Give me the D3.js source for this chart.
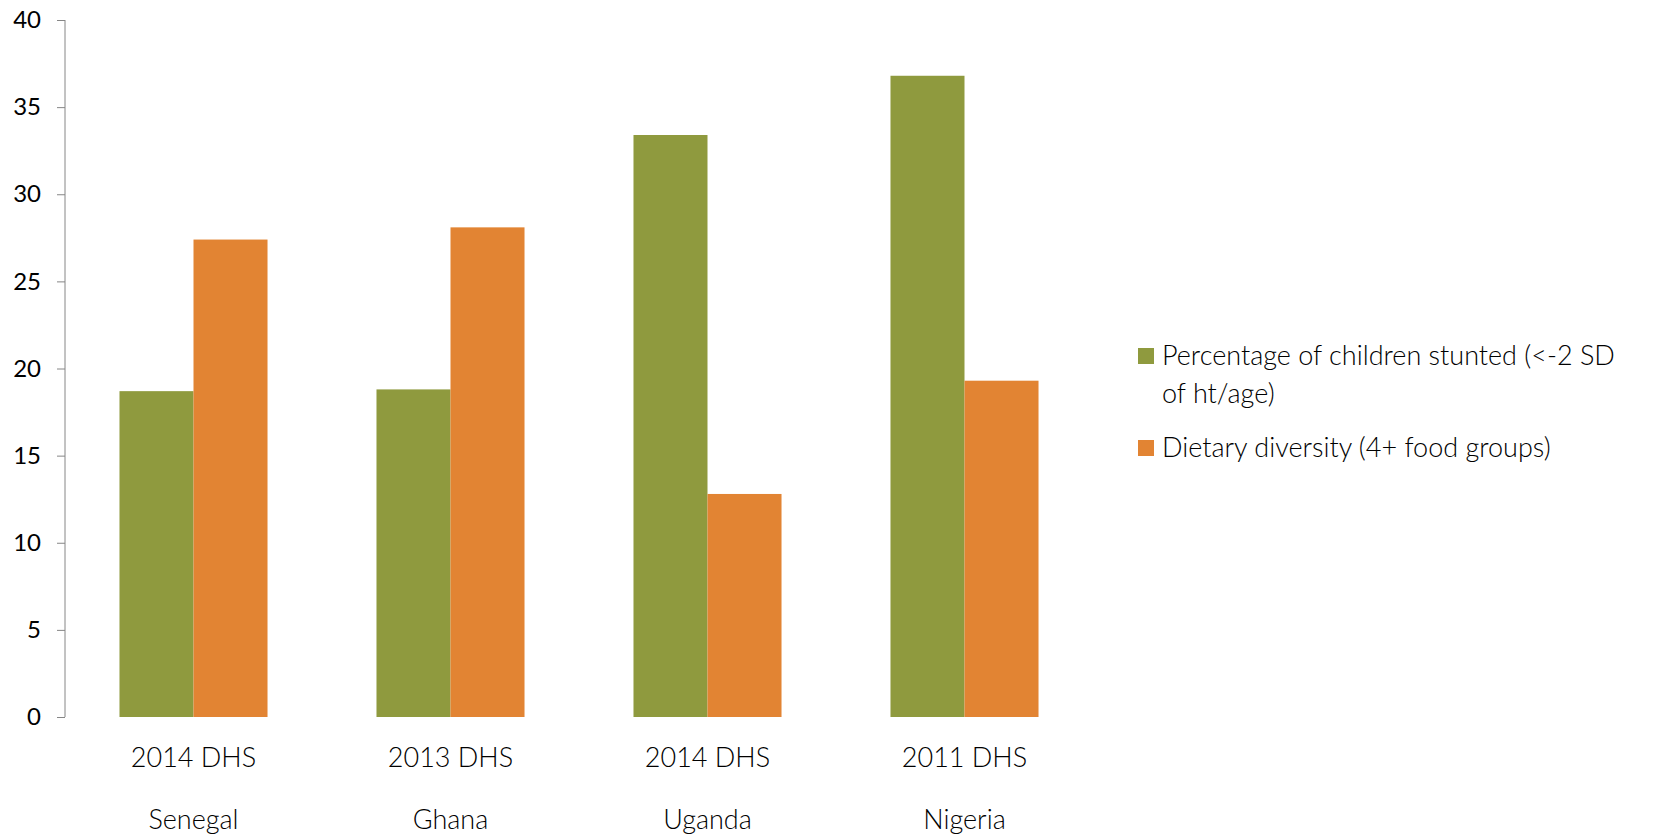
<!DOCTYPE html>
<html>
<head>
<meta charset="utf-8">
<script src="https://cdn.jsdelivr.net/npm/d3@7"></script>
<style>
  body { margin: 0; background: #fff; }
  text { font-family: Lato, "Open Sans", sans-serif; fill: #000; }
</style>
</head>
<body>
<script>
// chart data
var surveys = ["2014 DHS", "2013 DHS", "2014 DHS", "2011 DHS"];
var countries = ["Senegal", "Ghana", "Uganda", "Nigeria"];
var seriesNames = ["Percentage of children stunted (<-2 SD of ht/age)",
                   "Dietary diversity (4+ food groups)"];
var stunted = [18.7, 18.8, 33.4, 36.8];
var dietary = [27.4, 28.1, 12.8, 19.3];
var yTicks = [0, 5, 10, 15, 20, 25, 30, 35, 40];

var colors = ["#8f9a3e", "#e28433"];
var width = 1677, height = 835;
var margin = {left: 65, top: 20, right: 584, bottom: 118};

var svg = d3.select("body").append("svg")
    .attr("width", width)
    .attr("height", height);

var x = d3.scaleBand()
    .domain(d3.range(countries.length))
    .range([margin.left, width - margin.right])
    .paddingInner(0.424)
    .paddingOuter(0.212);

var xs = d3.scaleBand()
    .domain([0, 1])
    .range([0, x.bandwidth()]);

var y = d3.scaleLinear()
    .domain([0, 40])
    .range([height - margin.bottom, margin.top]);

// y axis
var yAxis = svg.append("g")
    .attr("transform", "translate(" + margin.left + ",0)")
    .call(d3.axisLeft(y).tickValues(yTicks).tickSize(8).tickPadding(16));
yAxis.select(".domain").attr("stroke", "#868686").attr("d",
    "M0," + y(0) + "V" + y(40));
yAxis.selectAll(".tick line").attr("stroke", "#868686");
yAxis.selectAll(".tick text")
    .style("font-family", "Lato, 'Open Sans', sans-serif")
    .attr("font-size", 24)
    .attr("fill", "#000");

// bars
var series = [stunted, dietary];
series.forEach(function(vals, s) {
  svg.append("g").selectAll("rect")
    .data(vals)
    .join("rect")
      .attr("x", function(d, i) { return x(i) + xs(s); })
      .attr("y", function(d) { return y(d); })
      .attr("width", xs.bandwidth())
      .attr("height", function(d) { return y(0) - y(d); })
      .attr("fill", colors[s]);
});

// category labels (two lines)
var cat = svg.append("g").selectAll("g")
  .data(countries)
  .join("g")
    .attr("transform", function(d, i) {
      return "translate(" + (x(i) + x.bandwidth() / 2) + ",0)";
    });
cat.append("text")
    .attr("y", 767)
    .attr("text-anchor", "middle")
    .attr("font-size", 27)
    .attr("font-weight", 300)
    .text(function(d, i) { return surveys[i]; });
cat.append("text")
    .attr("y", 829)
    .attr("text-anchor", "middle")
    .attr("font-size", 27)
    .attr("font-weight", 300)
    .text(function(d) { return d; });

// legend
var legend = svg.append("g").attr("transform", "translate(1138,0)");
var legendLines = [["Percentage of children stunted (<-2 SD", "of ht/age)"],
                   ["Dietary diversity (4+ food groups)"]];
var legendY = [365, 457];
legendLines.forEach(function(lines, s) {
  legend.append("rect")
      .attr("x", 0)
      .attr("y", legendY[s] - 17)
      .attr("width", 16)
      .attr("height", 16)
      .attr("fill", colors[s]);
  lines.forEach(function(t, j) {
    legend.append("text")
        .attr("x", 24)
        .attr("y", legendY[s] + j * 38)
        .attr("font-size", 27)
        .attr("font-weight", 300)
        .text(t);
  });
});
</script>
</body>
</html>
